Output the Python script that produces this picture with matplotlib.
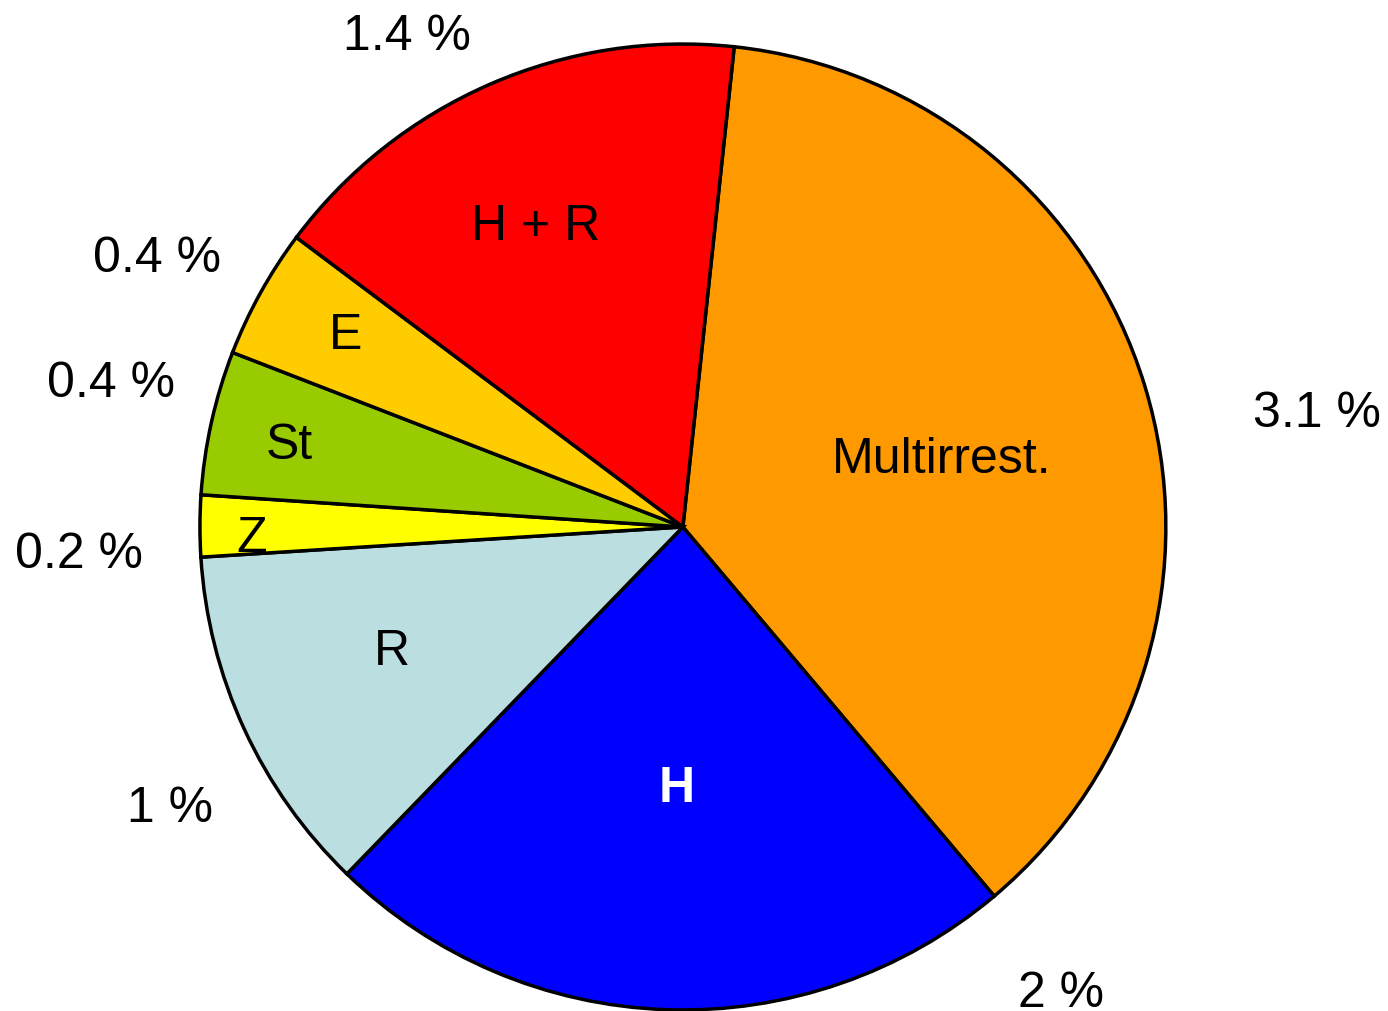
import matplotlib
matplotlib.use("Agg")
import matplotlib.pyplot as plt

plt.rcParams["font.family"] = ["Liberation Sans", "DejaVu Sans"]

labels = ["Multirrest.", "H", "R", "Z", "St", "E", "H + R"]
# shares (labels below are the rounded values)
values = [3.16, 1.99, 1.0, 0.175, 0.41, 0.37, 1.40]
pct_labels = ["3.1 %", "2 %", "1 %", "0.2 %", "0.4 %", "0.4 %", "1.4 %"]
colors = ["#FF9900", "#0000FF", "#BBDFE1", "#FFFF00", "#99CC00", "#FFCC00", "#FF0000"]

# label anchor points (baseline, in pie-radius units)
inner_xy = [(0.536, 0.114), (-0.012, -0.567), (-0.602, -0.284), (-0.892, -0.050),
            (-0.814, 0.143), (-0.698, 0.371), (-0.306, 0.596)]
outer_xy = [(1.312, 0.209), (0.782, -0.992), (-1.062, -0.609), (-1.251, -0.083),
            (-1.184, 0.271), (-1.089, 0.530), (-0.571, 0.990)]

fig = plt.figure(figsize=(13.88, 10.12), dpi=100)
ax = fig.add_axes([0, 0, 1, 1])

wedges, _ = ax.pie(values, colors=colors, startangle=83.9, counterclock=False,
                   wedgeprops=dict(edgecolor="black", linewidth=2.5))

for lab, pl, (xi, yi), (xo, yo) in zip(labels, pct_labels, inner_xy, outer_xy):
    bold = lab == "H"
    ax.text(xi, yi, lab, ha="center", va="baseline", fontsize=36,
            color="white" if bold else "black",
            fontweight="bold" if bold else "normal")
    ax.text(xo, yo, pl, ha="center", va="baseline", fontsize=36)

ax.set_xlim(-1.414, 1.460)
ax.set_ylim(-1.002, 1.093)
ax.set_aspect("equal")
ax.axis("off")

fig.savefig("out.png", dpi=100)
